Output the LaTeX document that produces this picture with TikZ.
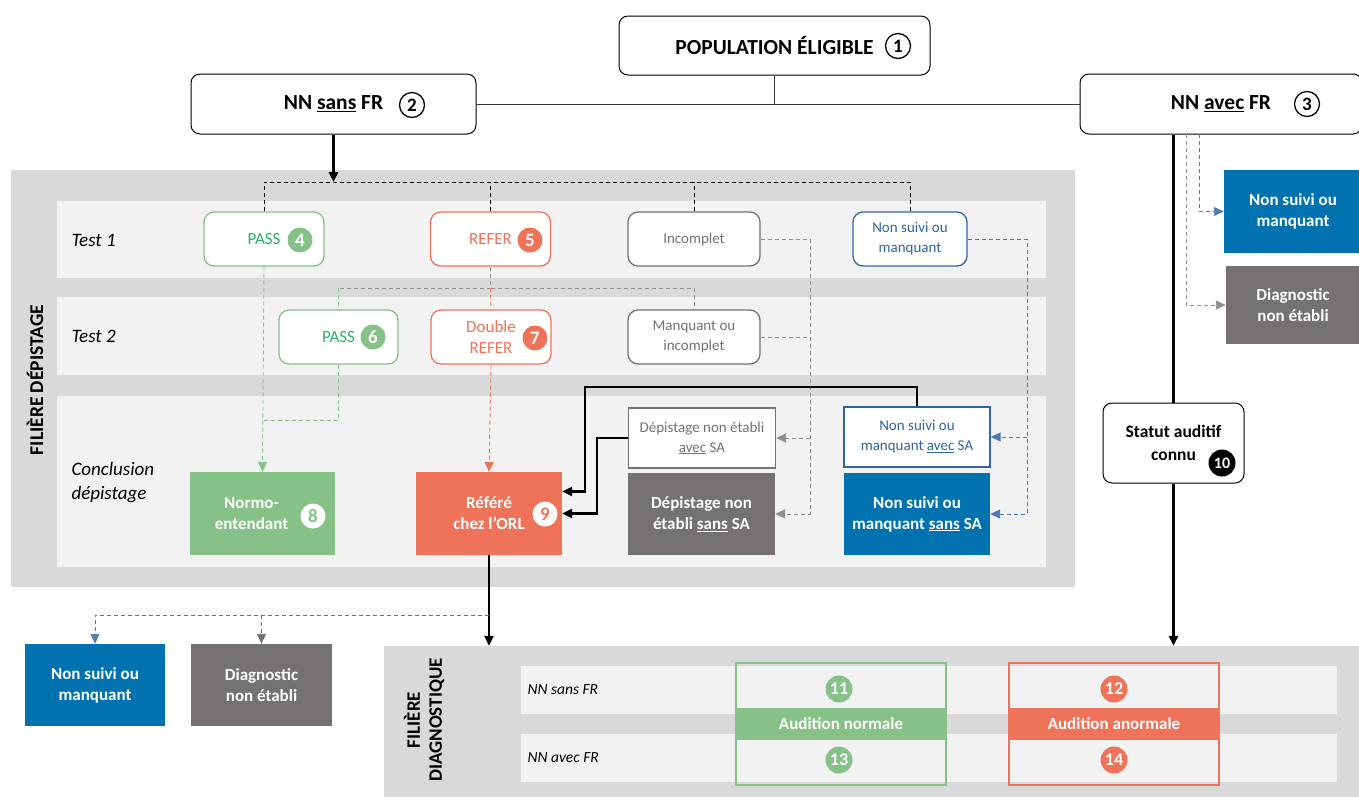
\documentclass[tikz,border=0pt]{standalone}
\usepackage{fontspec}
\setmainfont{Carlito}
\usetikzlibrary{arrows.meta}
\definecolor{panelgrey}{HTML}{D9D9D9}
\definecolor{rowgrey}{HTML}{F2F2F2}
\definecolor{okgreen}{HTML}{86C287}
\definecolor{passgreen}{HTML}{2EB16A}
\definecolor{refred}{HTML}{EE7359}
\definecolor{darkgrey}{HTML}{767171}
\definecolor{lightgrey}{HTML}{8F8F8F}
\definecolor{nsblue}{HTML}{0072AF}
\definecolor{lineblue}{HTML}{2F65A2}
\newcommand{\fs}[2]{\fontsize{#1}{#2}\selectfont}

\begin{document}
\begin{tikzpicture}[x=1pt,y=-1pt,
  head/.style={draw, rounded corners=9pt, line width=1pt, fill=white, font=\fs{21.5}{23}\bfseries, align=center},
  testbox/.style={draw=#1, text=#1, rounded corners=10pt, line width=1.3pt, fill=white, minimum width=120pt, minimum height=54pt, font=\fs{15}{20}, align=center},
  outbox/.style={draw=#1, text=#1, line width=1.3pt, fill=white, minimum width=147pt, minimum height=60pt, font=\fs{15}{20}, align=center},
  endbox/.style={fill=#1, text=white, minimum width=146pt, minimum height=83pt, font=\fs{17}{21}\bfseries, align=center},
  panel/.style={fill=panelgrey, inner sep=0pt},
  row/.style={fill=rowgrey, inner sep=0pt},
  rowlabel/.style={anchor=west, font=\fs{19}{24}\itshape, align=left},
  vlabel/.style={rotate=90, font=\fs{19.5}{22}\bfseries, align=center},
  numo/.style={circle, draw, line width=1.3pt, inner sep=0pt, minimum size=25pt, font=\fs{19}{19}\bfseries},
  numf/.style={circle, fill=#1, text=white, inner sep=0pt, minimum size=25pt, font=\fs{19}{19}\bfseries},
  audit/.style={draw=#1, line width=2.5pt, minimum width=210pt, minimum height=122pt},
  band/.style={fill=#1, text=white, minimum width=212pt, minimum height=32pt, font=\fs{17}{20}\bfseries},
  heavy/.style={line width=2.5pt},
  dashk/.style={dash pattern=on 4pt off 3pt, line width=0.9pt},
  tip/.style={-{Triangle[length=10pt,width=9pt]}}
]
\useasboundingbox (0,0) rectangle (1359,796);

% panels and rows
\node[panel, minimum width=1064pt, minimum height=417pt] (fdepbg) at (543,378.5) {};
\node[row, minimum width=989pt, minimum height=77pt] (row1) at (551.5,239.5) {};
\node[row, minimum width=989pt, minimum height=78pt] (row2) at (551.5,336) {};
\node[row, minimum width=989pt, minimum height=171pt] (row3) at (551.5,481.5) {};
\node[panel, minimum width=981pt, minimum height=154pt] (diag) at (874.5,723) {};
\node[row, minimum width=816pt, minimum height=48pt] (drow1) at (929,690) {};
\node[row, minimum width=816pt, minimum height=48pt] (drow2) at (929,758) {};

\node[vlabel] (fdep) at (35,380) {FILIÈRE DÉPISTAGE};
\node[vlabel, font=\fs{19}{22}\bfseries] (fdiag) at (424,720) {FILIÈRE\\DIAGNOSTIQUE};
\node[rowlabel] (lt1) at (68,240) {Test 1};
\node[rowlabel] (lt2) at (68,336) {Test 2};
\node[rowlabel] (lcon) at (68,483) {Conclusion\\dépistage};
\node[rowlabel, font=\fs{15.5}{18}\itshape] (ld1) at (524,690) {NN sans FR};
\node[rowlabel, font=\fs{15.5}{18}\itshape] (ld2) at (524,758) {NN avec FR};

% top
\node[head, minimum width=311pt, minimum height=59pt] (pop) at (774.5,45.5) {POPULATION ÉLIGIBLE};
\node[head, minimum width=285pt, minimum height=60pt] (sans) at (333.5,104) {NN \underline{sans} FR};
\node[head, minimum width=282pt, minimum height=60pt] (avec) at (1221,104) {NN \underline{avec} FR};
\node[numo] (n1) at (898,46) {1};
\node[numo] (n2) at (412,105) {2};
\node[numo] (n3) at (1307,104) {3};

% tests
\node[testbox=okgreen, text=passgreen, font=\fs{17}{20}] (pass4) at (264,239) {PASS};
\node[testbox=refred, font=\fs{17}{20}] (refer5) at (490.5,239) {REFER};
\node[testbox=darkgrey, minimum width=132pt] (incomp) at (694,239) {Incomplet};
\node[testbox=lineblue, minimum width=114pt] (nsm1) at (910,239) {Non suivi ou\\manquant};
\node[testbox=okgreen, text=passgreen, minimum width=119pt, font=\fs{17}{20}] (pass6) at (338.5,337) {PASS};
\node[testbox=refred, font=\fs{17}{21}] (refer7) at (491,337) {Double\\REFER};
\node[testbox=darkgrey, minimum width=132pt] (manq) at (694,337) {Manquant ou\\incomplet};
\node[numf=okgreen] (n4) at (300,240) {4};
\node[numf=refred] (n5) at (530,240) {5};
\node[numf=okgreen] (n6) at (373,337) {6};
\node[numf=refred] (n7) at (535,338) {7};

% conclusion
\node[endbox=okgreen, minimum width=145pt] (normo) at (262.5,513.5) {Normo-\hspace*{22pt}\\entendant\hspace*{22pt}};
\node[endbox=refred] (ref9) at (489,513.5) {Référé\\chez l’ORL};
\node[outbox=darkgrey] (depavec) at (702,438) {Dépistage non établi\\\underline{avec} SA};
\node[endbox=darkgrey, minimum width=147pt, minimum height=82pt] (depsans) at (701.5,514) {Dépistage non\\établi \underline{sans} SA};
\node[outbox=lineblue, minimum width=146pt] (nsmavec) at (917,437) {Non suivi ou\\manquant \underline{avec} SA};
\node[endbox=nsblue, minimum height=82pt] (nsmsans) at (917,514) {Non suivi ou\\manquant \underline{sans} SA};
\node[numf=white, text=okgreen] (n8) at (313,516) {8};
\node[numf=white, text=refred] (n9) at (545,514) {9};

% right column
\node[head, minimum width=141pt, minimum height=80pt, font=\fs{17.5}{23}\bfseries] (statut) at (1173.5,443) {Statut auditif\\connu};
\node[numf=black, minimum size=27pt, font=\fs{16}{16}\bfseries] (n10) at (1222,463) {10};
\node[endbox=nsblue, minimum width=138pt] (nsmR) at (1293,211.5) {Non suivi ou\\manquant};
\node[endbox=darkgrey, minimum width=134pt, minimum height=78pt] (dneR) at (1293,305) {Diagnostic\\non établi};

% bottom left
\node[endbox=nsblue, minimum width=140pt, minimum height=82pt] (nsmL) at (95,685) {Non suivi ou\\manquant};
\node[endbox=darkgrey, minimum width=141pt, minimum height=82pt] (dneL) at (261.5,685) {Diagnostic\\non établi};

% diagnostic outcomes
\node[audit=okgreen] (normal) at (841,724) {};
\node[audit=refred] (anormal) at (1114,724) {};
\node[band=okgreen] (bnormal) at (841,724) {Audition normale};
\node[band=refred] (banormal) at (1114,724) {Audition anormale};
\node[numf=okgreen, minimum size=27pt, font=\fs{18}{18}\bfseries] (n11) at (839,689) {11};
\node[numf=refred, minimum size=27pt, font=\fs{18}{18}\bfseries] (n12) at (1114,689) {12};
\node[numf=okgreen, minimum size=27pt, font=\fs{18}{18}\bfseries] (n13) at (839,760) {13};
\node[numf=refred, minimum size=27pt, font=\fs{18}{18}\bfseries] (n14) at (1114,760) {14};

% connectors
\coordinate (split1) at (333.5,182);
\coordinate (split2) at (490.5,288);
\coordinate (m6) at (263,420);
\coordinate (gcol) at (810,0);
\coordinate (bcol) at (1027,0);
\coordinate (c1) at (585,387);
\coordinate (c2) at (597,0);
\coordinate (c3) at (489,615);
\coordinate (b1) at (1199,134);
\coordinate (g1) at (1186,134);

\draw[black!80, line width=1pt] (pop.south) -- (pop.south |- sans.east);
\draw[black!80, line width=1pt] (sans.east) -- (avec.west);
\draw[heavy, tip] (sans.south) -- (split1);
\draw[dashk] (pass4.north) |- (split1) -| (nsm1.north);
\draw[dashk] (refer5.north) -- (refer5.north |- split1);
\draw[dashk] (incomp.north) -- (incomp.north |- split1);

\draw[dashk, lightgrey] (refer5.south) -- (split2);
\draw[dashk, lightgrey] (split2) -- (pass6.north |- split2);
\draw[dashk, okgreen] (pass6.north |- split2) -- (pass6.north);
\draw[dashk, lightgrey] (split2) -| (manq.north);
\draw[dashk, refred] (split2) -- (refer7.north);

\draw[dashk, okgreen, tip] (pass4.south) -- (normo.north);
\draw[dashk, okgreen] (pass6.south) |- (m6);
\draw[dashk, refred, tip] (refer7.south) -- (ref9.north);

\draw[dashk, lightgrey, tip] (incomp.east) -| (gcol |- depsans.east) -- (depsans.east);
\draw[dashk, lightgrey] (manq.east) -- (gcol |- manq.east);
\draw[dashk, lightgrey, tip] (gcol |- depavec.east) -- (depavec.east);
\draw[dashk, lineblue!85, tip] (nsm1.east) -| (bcol |- nsmsans.east) -- (nsmsans.east);
\draw[dashk, lineblue!85, tip] (bcol |- nsmavec.east) -- (nsmavec.east);

\draw[heavy, tip] (nsmavec.north) |- (c1) |- ([yshift=22pt]ref9.east);
\draw[heavy, tip] (depavec.west) -| (c2 |- ref9.east) -- (ref9.east);
\draw[heavy, tip] (ref9.south) -- (ref9.south |- diag.north);
\draw[dashk, lineblue!85, tip] (c3) -| (nsmL.north);
\draw[dashk, darkgrey, tip] (dneL.north |- c3) -- (dneL.north);

\draw[heavy] (statut.north |- avec.south) -- (statut.north);
\draw[heavy, tip] (statut.south) -- (statut.south |- diag.north);
\draw[dashk, lineblue!85, tip] (b1) |- (nsmR.west);
\draw[dashk, lightgrey, tip] (g1) |- (dneR.west);
\end{tikzpicture}
\end{document}
